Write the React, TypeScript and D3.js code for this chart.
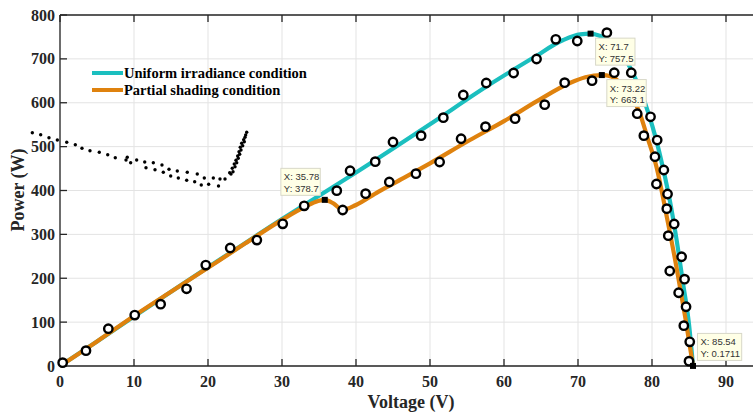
import React from "react";
import * as d3 from "d3";

const xTicks = [0, 10, 20, 30, 40, 50, 60, 70, 80, 90];
const yTicks = [0, 100, 200, 300, 400, 500, 600, 700, 800];

const uniformCurve: [number, number][] = [
  [0, 0], [5, 56], [10, 113], [15, 169], [20, 225], [25, 280], [30, 335], [33, 367],
  [40, 441], [50, 551], [58, 641], [64, 703], [68, 743], [70.3, 756], [71.7, 757.5],
  [73, 752], [74.5, 738], [76, 710], [77.3, 672], [78.5, 625], [79.6, 572], [80.5, 520],
  [81.5, 450], [82.4, 378], [83.3, 290], [84.2, 188], [85, 95], [85.54, 0.17],
];

const partialCurve: [number, number][] = [
  [0, 0], [5, 56], [10, 114], [15, 169], [20, 224], [25, 279], [30, 333], [33, 362],
  [34.5, 374], [35.78, 378.7], [37, 370], [38.2, 356], [40, 367], [43, 397], [46.4, 428],
  [50, 462], [55.4, 515], [60, 558], [64.4, 603], [68.9, 645], [71, 658], [73.22, 663.1],
  [74.5, 660], [76, 640], [77, 618], [78.2, 583], [79.4, 520], [80.6, 454], [82, 340],
  [83.3, 226], [84.5, 110], [85.54, 0.17],
];

const markers: [number, number][] = [
  [0.36, 7.6], [3.51, 35], [6.53, 85], [10.1, 116], [13.6, 141], [17.1, 176],
  [19.7, 230], [23.0, 269], [26.6, 287], [30.1, 324], [33.0, 365], [37.4, 399.6],
  [38.2, 355.6], [39.2, 445], [41.3, 392.8], [42.6, 465.7], [44.5, 419.4], [45.0, 510.5],
  [48.1, 438.4], [48.8, 525], [51.3, 465], [51.8, 566], [54.2, 518], [54.5, 617.7],
  [57.5, 545.5], [57.6, 645], [61.5, 563.7], [61.3, 667.8], [64.4, 699.7], [65.5, 595.6],
  [67.0, 744.6], [68.2, 645.8], [69.9, 740.7], [71.9, 650.3], [73.9, 759.7], [74.9, 668.5],
  [77.2, 668.5], [78.0, 575], [79.8, 568], [78.9, 525], [80.7, 515], [80.4, 477],
  [81.6, 446.7], [80.6, 414.8], [82.1, 392], [82.0, 358.6], [83.0, 323.6], [82.2, 297],
  [84.0, 249], [82.4, 216.5], [84.4, 198], [83.6, 167], [84.6, 135], [84.3, 92],
  [85.1, 55], [85.0, 11],
];

const dots: [number, number][] = [
  [-3.74, 531.7], [-2.61, 527.2], [-1.49, 520.3], [-0.36, 515.1], [0.91, 509.9],
  [2.07, 504.4], [2.97, 496.2], [4.05, 490.7], [5.31, 487.1], [6.45, 481.6],
  [7.47, 474.8], [9.09, 475.7], [10.36, 469.5], [11.45, 465.0], [12.61, 463.4],
  [13.78, 458.1], [14.73, 448.3], [15.85, 444.4], [17.2, 441.5], [18.55, 437.6],
  [19.5, 428.5], [20.72, 428.5], [21.62, 426.2], [22.3, 426.2],
  [8.92, 469.5], [9.55, 463.4], [11.62, 452.0], [12.84, 447.4], [13.96, 441.5],
  [14.96, 433.0], [15.99, 428.5], [17.12, 423.2], [18.2, 420.1], [19.09, 412.5],
  [20.09, 414.1], [21.42, 410.3],
  [22.93, 440.6], [23.11, 437.6], [23.28, 450.6], [23.38, 442.8], [23.55, 460.4],
  [23.65, 454.2], [23.78, 468.8], [23.88, 463.4], [24.01, 478.6], [24.09, 473.4],
  [24.19, 488.4], [24.28, 482.5], [24.36, 498.5], [24.46, 492.3], [24.55, 507.6],
  [24.69, 502.1], [24.82, 515.8], [24.91, 511.2], [25.0, 521.3], [25.09, 526.5],
  [25.23, 532.7],
];

const tipX = [35.78, 71.7, 73.22, 85.54];
const tipY = [378.7, 757.5, 663.1, 0.1711];
const tipXLabel = ["35.78", "71.7", "73.22", "85.54"];
const tipYLabel = ["378.7", "757.5", "663.1", "0.1711"];
const tipPlace = ["upleft", "downright", "downright", "upright"];

const legendLabels = ["Uniform irradiance condition", "Partial shading condition"];
const CYAN = "#1bbfbf";
const ORANGE = "#df820e";

export default function App() {
  const W = 753, H = 415;
  const x = d3.scaleLinear().domain([0, 94]).range([60, 60 + 94 * 7.4]);
  const y = d3.scaleLinear().domain([0, 800]).range([366, 15]);
  const line = d3.line<[number, number]>().x(d => x(d[0])).y(d => y(d[1])).curve(d3.curveMonotoneX);
  const serif = "'Liberation Serif', 'Times New Roman', serif";
  const sans = "'Liberation Sans', Arial, sans-serif";
  const axisCol = "#262626";
  const x0 = x(0), x1 = x(94), y0 = y(0), y1 = y(800);

  return (
    <svg width={W} height={H} style={{ position: "absolute", left: 0, top: 0, background: "#fff" }}>
      {xTicks.map(t => (
        <line key={"gx" + t} x1={x(t)} x2={x(t)} y1={y0} y2={y1} stroke="#e3e3e3" strokeWidth={1} />
      ))}
      {yTicks.map(t => (
        <line key={"gy" + t} x1={x0} x2={x1} y1={y(t)} y2={y(t)} stroke="#e3e3e3" strokeWidth={1} />
      ))}
      <line x1={x0} x2={x1} y1={y0} y2={y0} stroke={axisCol} strokeWidth={1.3} />
      <line x1={x0} x2={x1} y1={y1} y2={y1} stroke={axisCol} strokeWidth={1.3} />
      <line x1={x0} x2={x0} y1={y0} y2={y1} stroke={axisCol} strokeWidth={1.3} />
      {xTicks.map(t => (
        <g key={"tx" + t}>
          <line x1={x(t)} x2={x(t)} y1={y0} y2={y0 - 7} stroke={axisCol} strokeWidth={1.3} />
          <line x1={x(t)} x2={x(t)} y1={y1} y2={y1 + 7} stroke={axisCol} strokeWidth={1.3} />
          <text x={x(t)} y={387} textAnchor="middle" fontFamily={serif} fontWeight="bold" fontSize={16} fill={axisCol}>{t}</text>
        </g>
      ))}
      {yTicks.map(t => (
        <g key={"ty" + t}>
          <line x1={x0} x2={x0 + 7} y1={y(t)} y2={y(t)} stroke={axisCol} strokeWidth={1.3} />
          <text x={55} y={y(t) + 5.5} textAnchor="end" fontFamily={serif} fontWeight="bold" fontSize={16} fill={axisCol}>{t}</text>
        </g>
      ))}
      <text x={411} y={408} textAnchor="middle" fontFamily={serif} fontWeight="bold" fontSize={18} fill={axisCol}>Voltage (V)</text>
      <text transform={`translate(24,${190}) rotate(-90)`} textAnchor="middle" fontFamily={serif} fontWeight="bold" fontSize={18} fill={axisCol}>Power (W)</text>

      {dots.map((d, i) => (
        <circle key={"d" + i} cx={x(d[0])} cy={y(d[1])} r={1.7} fill="#000" />
      ))}

      <path d={line(uniformCurve) || ""} fill="none" stroke={CYAN} strokeWidth={4.2} />
      <path d={line(partialCurve) || ""} fill="none" stroke={ORANGE} strokeWidth={4.2} />

      {markers.map((d, i) => (
        <circle key={"m" + i} cx={x(d[0])} cy={y(d[1])} r={4.2} fill="#fff" stroke="#000" strokeWidth={2.4} />
      ))}

      {legendLabels.map((l, i) => (
        <g key={"lg" + i}>
          <line x1={92} x2={123} y1={73 + i * 17} y2={73 + i * 17} stroke={i === 0 ? CYAN : ORANGE} strokeWidth={4} />
          <text x={124} y={78 + i * 17} fontFamily={serif} fontWeight="bold" fontSize={14.5} fill="#000">{l}</text>
        </g>
      ))}

      {tipX.map((tx, i) => {
        const px = x(tx), py = y(tipY[i]);
        const lx = "X: " + tipXLabel[i], ly = "Y: " + tipYLabel[i];
        const w = Math.max(lx.length, ly.length) * 4.8 + 1;
        const h = 27;
        let bx = px + 5, by = py + 4.5;
        if (tipPlace[i] === "upleft") { bx = px - 4.5 - w; by = py - 4.5 - h; }
        if (tipPlace[i] === "upright") { bx = px + 4.5; by = py - 5.5 - h; }
        return (
          <g key={"tip" + i}>
            <rect x={bx} y={by} width={w} height={h} fill="#ffffe6" stroke="#d8d8c8" strokeWidth={1} />
            <text x={bx + 3} y={by + 12} fontFamily={sans} fontSize={9.5} fill="#333">{lx}</text>
            <text x={bx + 3} y={by + 23.5} fontFamily={sans} fontSize={9.5} fill="#333">{ly}</text>
            <rect x={px - 3} y={py - 3} width={6} height={6} fill="#000" />
          </g>
        );
      })}
    </svg>
  );
}
